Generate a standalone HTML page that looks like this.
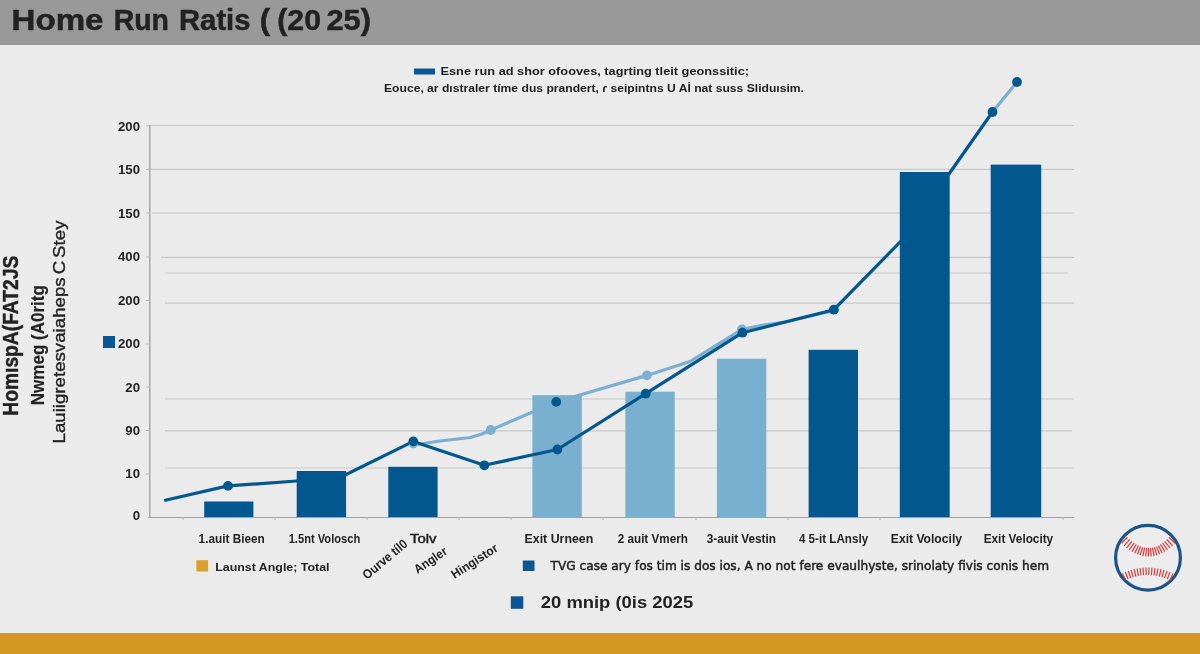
<!DOCTYPE html>
<html><head><meta charset="utf-8"><title>Home Run Ratis</title>
<style>
html,body{margin:0;padding:0;background:#ebebeb;width:1200px;height:654px;overflow:hidden}
svg{display:block;will-change:transform}
text{font-family:"Liberation Sans",Arial,sans-serif;font-weight:bold;fill:#222}
</style></head><body>
<svg width="1200" height="654" viewBox="0 0 1200 654">
<rect x="0" y="0" width="1200" height="654" fill="#ebebeb"/>
<!-- header -->
<rect x="0" y="0" width="1200" height="45" fill="#999999"/>
<g font-size="29.5" fill="#262626" stroke="#262626" stroke-width="0.5" style="font-family:'DejaVu Sans','Liberation Sans',sans-serif">
<text x="11.5" y="29.8" textLength="92.0" lengthAdjust="spacingAndGlyphs">Home</text>
<text x="113.7" y="29.8" textLength="55.3" lengthAdjust="spacingAndGlyphs">Run</text>
<text x="179.0" y="29.8" textLength="71.5" lengthAdjust="spacingAndGlyphs">Ratis</text>
<text x="259.8" y="29.8" textLength="10.4" lengthAdjust="spacingAndGlyphs">(</text>
<text x="277.3" y="29.8" textLength="43.7" lengthAdjust="spacingAndGlyphs">(20</text>
<text x="326.5" y="29.8" textLength="44.5" lengthAdjust="spacingAndGlyphs">25)</text>
</g>
<!-- bottom bar -->
<rect x="0" y="633" width="1200" height="21" fill="#d39822"/>

<!-- top legend -->
<rect x="414" y="68.5" width="21" height="6" fill="#0a5795"/>
<text x="440.5" y="75.2" font-size="11.5" textLength="308.5" lengthAdjust="spacingAndGlyphs" fill="#333">Esne run ad shor ofooves, tagrting tleit geonssitic;</text>
<text x="384" y="92.1" font-size="11.5" textLength="420" lengthAdjust="spacingAndGlyphs" fill="#333">Eouce, ar dıstraler tíme dus prandert, ɾ seipintns U Aİ nat suss Sliduısim.</text>

<!-- gridlines -->
<g stroke="#c8c8c8" stroke-width="1.2">
<line x1="150" y1="125.5" x2="1074" y2="125.5"/>
<line x1="150" y1="169.3" x2="1074" y2="169.3"/>
<line x1="152" y1="213" x2="1074" y2="213"/>
<line x1="161" y1="257.3" x2="1074" y2="257.3"/>
<line x1="165.5" y1="273" x2="1068" y2="273"/>
<line x1="165" y1="303.2" x2="1074" y2="303.2"/>
<line x1="165" y1="399" x2="1074" y2="399"/>
<line x1="165" y1="430.8" x2="1072" y2="430.8"/>
<line x1="165" y1="468" x2="1074" y2="468"/>
</g>
<!-- axes -->
<g stroke="#a8a8a8" stroke-width="1.5">
<line x1="149.8" y1="125" x2="149.8" y2="517.5"/>
</g><line x1="148" y1="517.5" x2="1074" y2="517.5" stroke="#a2a2a2" stroke-width="1.1"/><g>
</g>
<g stroke="#b5b5b5" stroke-width="1">
<line x1="146" y1="125.8" x2="150" y2="125.8"/><line x1="146" y1="169.3" x2="150" y2="169.3"/><line x1="146" y1="213" x2="150" y2="213"/>
<line x1="146" y1="257" x2="150" y2="257"/><line x1="146" y1="300.5" x2="150" y2="300.5"/><line x1="146" y1="344" x2="150" y2="344"/>
<line x1="146" y1="387" x2="150" y2="387"/><line x1="146" y1="430.5" x2="150" y2="430.5"/><line x1="146" y1="474" x2="150" y2="474"/>
<line x1="183" y1="517" x2="183" y2="520"/><line x1="275" y1="517" x2="275" y2="520"/><line x1="367" y1="517" x2="367" y2="520"/>
<line x1="459" y1="517" x2="459" y2="520"/><line x1="511" y1="517" x2="511" y2="520"/><line x1="603" y1="517" x2="603" y2="520"/>
<line x1="696" y1="517" x2="696" y2="520"/><line x1="788" y1="517" x2="788" y2="520"/><line x1="880" y1="517" x2="880" y2="520"/><line x1="1063" y1="517" x2="1063" y2="520"/>
</g>
<!-- y labels -->
<g font-size="13.2" text-anchor="end">
<text x="140" y="131.0">200</text>
<text x="140" y="174.0">150</text>
<text x="140" y="217.5">150</text>
<text x="140" y="261.0">400</text>
<text x="140" y="304.5">200</text>
<text x="140" y="348.0">200</text>
<text x="140" y="391.5">20</text>
<text x="140" y="434.5">90</text>
<text x="140" y="478.0">10</text>
<text x="140" y="519.5">0</text>
</g>
<rect x="103" y="336" width="12" height="12" fill="#0a5795"/>

<!-- y axis title -->
<text transform="translate(18.3,415.7) rotate(-90)" font-size="21.5" textLength="160" lengthAdjust="spacingAndGlyphs" fill="#222" stroke="#222" stroke-width="0.4">HomıspA(FAT2JS</text>
<text transform="translate(44,405.2) rotate(-90)" font-size="18.5" textLength="120" lengthAdjust="spacingAndGlyphs" fill="#222" stroke="#222" stroke-width="0.15">Nwmeg (A0ritg</text>
<text transform="translate(65,443.5) rotate(-90)" font-size="17" textLength="223" lengthAdjust="spacingAndGlyphs" fill="#222" stroke="#222" stroke-width="0.35" style="font-weight:normal">Lauiigretesvaiaheps<tspan dx="-2"> C</tspan><tspan dx="-2"> Stey</tspan></text>

<!-- bars -->
<g fill="#02578f">
<rect x="204.2" y="501.5" width="49.2" height="15.5"/>
<rect x="296.7" y="471" width="49.4" height="46"/>
<rect x="388.3" y="466.8" width="49.3" height="50.2"/>
<rect x="808.6" y="349.8" width="49.4" height="167.2"/>
<rect x="899.8" y="172" width="49.9" height="345"/>
<rect x="990.7" y="164.6" width="50.5" height="352.4"/>
</g>
<g fill="#7ab0cf">
<rect x="532.4" y="395.2" width="49.4" height="121.8"/>
<rect x="625.4" y="391.7" width="49.3" height="125.3"/>
<rect x="716.9" y="358.7" width="49.4" height="158.3"/>
</g>

<!-- lines (over bars) -->
<polyline fill="none" stroke="#7aafd0" stroke-width="3.2" stroke-linejoin="round" points="413.3,445 440,441 470.7,437.5 482,434 490.7,430 556,402 646.9,375.4 690,361.5 742,329.4 761,325.5 785,322 833.9,310.5"/>
<polyline fill="none" stroke="#7aafd0" stroke-width="3.2" points="992.5,112 1017,82"/>
<polyline fill="none" stroke="#02578f" stroke-width="3.2" stroke-linejoin="round" points="164.2,500.5 228,485.9 296.7,481 339,478 413.3,441.4 484.3,465.3 557.4,449.5 645.7,393.7 742.5,332.7 833.9,309.7 904,238 992.5,112"/>

<!-- dots -->
<g fill="#7aafd0">
<circle cx="413.3" cy="443.8" r="4.6"/><circle cx="490.7" cy="430" r="4.9"/><circle cx="646.9" cy="375.4" r="4.9"/><circle cx="742" cy="329.4" r="4.9"/>
</g>
<g fill="#02578f">
<circle cx="228" cy="485.9" r="4.9"/><circle cx="413.3" cy="441.4" r="4.9"/><circle cx="484.3" cy="465.3" r="4.9"/><circle cx="557.4" cy="449.5" r="4.9"/>
<circle cx="556.2" cy="401.9" r="4.9"/><circle cx="645.7" cy="393.7" r="4.9"/><circle cx="742.5" cy="332.7" r="4.9"/><circle cx="833.9" cy="309.7" r="4.9"/>
<circle cx="992.5" cy="112" r="4.9"/><circle cx="1017" cy="82" r="4.9"/>
</g>

<!-- x labels -->
<g font-size="12">
<text x="198.6" y="542.8" textLength="66.2" lengthAdjust="spacingAndGlyphs">1.auit Bieen</text>
<text x="288.7" y="542.8" textLength="71.5" lengthAdjust="spacingAndGlyphs">1.5nt Volosch</text>
<text x="410" y="542.7" font-size="12.8" textLength="26.6" lengthAdjust="spacingAndGlyphs" stroke="#222" stroke-width="0.45" style="font-weight:normal">Tolv</text>
<text x="524.5" y="543.2" textLength="68.8" lengthAdjust="spacingAndGlyphs">Exit Urneen</text>
<text x="617.8" y="543.2" textLength="70" lengthAdjust="spacingAndGlyphs">2 auit Vmerh</text>
<text x="706.7" y="543.2" textLength="69.3" lengthAdjust="spacingAndGlyphs">3-auit Vestin</text>
<text x="798.9" y="543.2" textLength="69.3" lengthAdjust="spacingAndGlyphs">4 5-it LAnsly</text>
<text x="890.8" y="543.2" textLength="71.2" lengthAdjust="spacingAndGlyphs">Exit Volocily</text>
<text x="983.7" y="543.2" textLength="69.5" lengthAdjust="spacingAndGlyphs">Exit Velocity</text>
<text transform="translate(367,580) rotate(-40)" font-size="13" textLength="54" lengthAdjust="spacingAndGlyphs">Ourve tíl0</text>
<text transform="translate(417.5,574) rotate(-34)" font-size="12.5" textLength="37" lengthAdjust="spacingAndGlyphs">Angler</text>
<text transform="translate(454.5,579) rotate(-33)" font-size="12.5" textLength="53" lengthAdjust="spacingAndGlyphs">Hingistor</text>
</g>

<!-- bottom legend -->
<rect x="196.4" y="560.2" width="11.7" height="11.3" fill="#d9a02a"/>
<text x="215.2" y="570.6" font-size="11.6" textLength="114.3" lengthAdjust="spacingAndGlyphs">Launst Angle; Total</text>
<rect x="522.8" y="560.5" width="11.7" height="10.5" fill="#0a5795"/>
<text x="550.5" y="570.2" font-size="12.2" textLength="498.5" lengthAdjust="spacingAndGlyphs" style="font-family:'DejaVu Sans',sans-serif;font-weight:normal" stroke="#222" stroke-width="0.45">TVG case ary fos tim is dos ios, A no not fere evaulhyste, srinolaty fivis conis hem</text>
<rect x="510.8" y="596.3" width="12.5" height="12.5" fill="#0a5795"/>
<text x="540.8" y="607.5" font-size="17" textLength="152.5" lengthAdjust="spacingAndGlyphs" fill="#222">20 mnip (0is 2025</text>

<!-- baseball -->
<circle cx="1148" cy="557.7" r="32.4" fill="#ededed" stroke="#1b5587" stroke-width="3.2"/>
<path d="M1127.5 537.3L1121.5 543.3M1129.8 539.4L1124.1 545.8M1132.0 541.3L1126.7 547.9M1134.2 542.9L1129.3 549.9M1136.3 544.3L1132.0 551.6M1138.5 545.5L1134.7 553.1M1140.5 546.4L1137.4 554.3M1142.6 547.2L1140.1 555.3M1144.6 547.7L1142.9 556.0M1146.5 548.0L1145.7 556.4M1148.5 548.0L1148.5 556.5M1150.4 548.0L1151.3 556.4M1152.4 547.7L1154.1 556.0M1154.4 547.2L1156.8 555.3M1156.4 546.4L1159.6 554.3M1158.4 545.5L1162.2 553.1M1160.4 544.4L1164.9 551.6M1162.5 543.0L1167.5 549.9M1164.6 541.3L1170.0 547.9M1166.8 539.5L1172.6 545.7M1168.9 537.3L1175.1 543.3" stroke="#d04444" stroke-width="1.25" fill="none"/>
<path d="M1122.4 573.4L1125.6 580.2M1125.3 572.1L1128.2 579.0M1128.2 571.0L1130.8 578.0M1131.1 570.0L1133.3 577.2M1134.1 569.2L1135.9 576.5M1137.1 568.6L1138.5 575.9M1140.0 568.1L1141.0 575.5M1143.0 567.7L1143.6 575.2M1146.0 567.6L1146.2 575.1M1149.0 567.6L1148.8 575.1M1152.0 567.7L1151.4 575.2M1155.0 568.1L1154.0 575.5M1158.0 568.5L1156.6 575.9M1161.0 569.2L1159.3 576.5M1164.0 570.0L1161.9 577.2M1167.0 571.0L1164.6 578.1M1170.0 572.1L1167.3 579.1M1173.0 573.4L1170.0 580.2" stroke="#d04444" stroke-width="1.25" fill="none"/>
</svg>
</body></html>
